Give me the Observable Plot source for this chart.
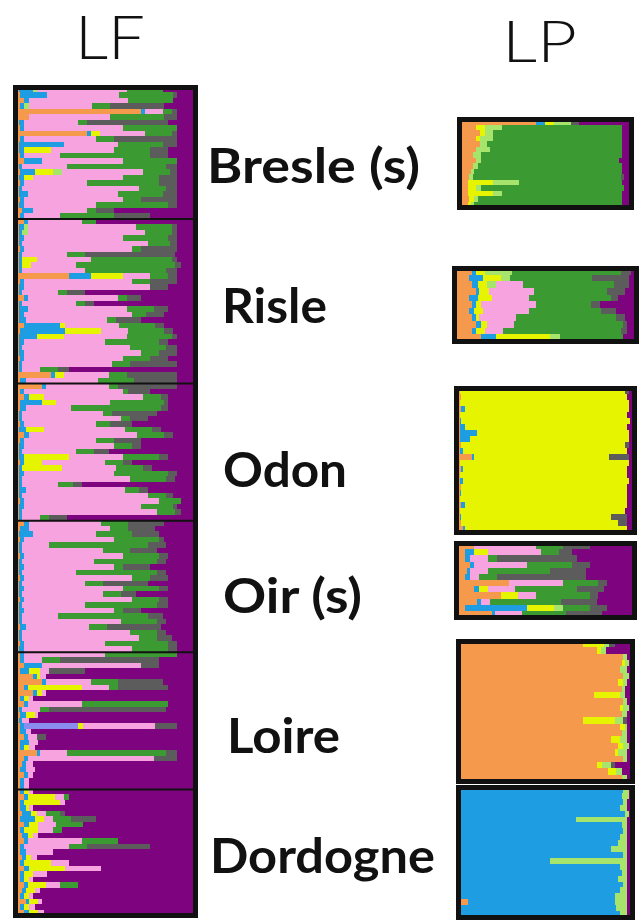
<!DOCTYPE html>
<html><head><meta charset="utf-8">
<script src="https://cdn.jsdelivr.net/npm/d3@7"></script>
<script src="https://cdn.jsdelivr.net/npm/@observablehq/plot@0.6"></script>
<style>
body{margin:0;background:#fff}
#root{position:relative;width:641px;height:924px;overflow:hidden}
#root > svg{position:absolute}
</style>
</head><body><div id="root"></div>
<script>
// cluster order (left to right within each individual bar)
const clusters = ["K1","K2","K3","K4","K5","K6","K7","K8","K9"];
const clusterColors = ["#f59a4c","#1f9de3","#8a8cf0","#e6f400","#a6e46c","#f6a3e0","#3c9a32","#5c5c5c","#7e037e"];
const populations = ["Bresle (s)","Risle","Odon","Oir (s)","Loire","Dordogne"];

// LF: membership (%) per individual, columns follow `clusters`
const lfBresle = [
[2,8,0,0,2,50,20,0,18],[3,15,0,0,0,40,30,2,10],[5,3,0,0,0,55,25,0,12],[3,2,0,0,3,35,10,30,17],
[70,2,0,0,0,10,5,3,10],[8,0,0,0,0,45,30,7,10],[2,3,0,0,0,30,5,45,15],[3,2,0,0,0,55,30,0,10],
[40,2,0,5,0,25,15,3,10],[3,2,0,0,0,40,10,35,10],[2,25,0,0,0,30,25,8,10],[2,3,0,15,0,35,20,10,15],
[3,2,0,0,0,20,50,10,15],[5,10,0,0,0,45,30,0,10],[2,2,0,0,0,25,55,6,10],[3,8,0,10,5,45,15,4,10],
[2,3,0,5,0,50,20,10,10],[3,2,0,0,0,35,40,10,10],[2,2,0,0,0,65,15,6,10],[2,5,0,0,0,50,25,8,10],
[3,2,0,0,0,55,10,20,10],[2,3,0,0,0,40,40,5,10],[4,6,0,0,0,30,5,10,45],[3,2,0,0,0,20,30,20,25]
];
const lfRisle = [
[5,2,0,0,0,30,8,0,55],[2,3,0,0,2,60,20,3,10],[2,2,0,0,3,65,15,3,10],[2,3,0,0,0,55,25,5,10],
[2,2,0,0,0,70,12,4,10],[3,2,0,0,0,60,5,20,10],[2,2,0,0,0,25,10,50,11],[2,2,0,8,0,30,45,3,10],
[2,2,0,5,0,25,55,3,8],[2,2,0,0,0,35,45,6,10],[30,12,0,18,0,15,10,5,10],[3,2,0,0,0,60,10,15,10],
[2,3,0,0,0,70,0,10,15],[2,2,0,0,0,20,5,10,61],[5,2,0,0,0,50,5,8,30],[2,2,0,0,0,30,5,5,56],
[2,5,0,0,0,55,15,8,15],[2,3,0,0,0,60,8,10,17],[2,4,0,0,0,45,5,14,30],[5,20,0,3,0,30,20,5,17],
[3,25,0,20,0,15,20,5,12],[2,10,0,15,0,35,25,3,10],[2,3,0,0,0,45,30,5,15],[2,2,0,0,0,60,20,6,10],
[2,3,0,0,0,65,10,10,10],[3,2,0,0,0,55,15,10,15],[2,2,0,0,0,50,10,26,10],[2,2,0,0,0,10,10,6,70],
[20,2,0,5,0,25,10,28,10],[3,3,0,0,0,40,20,24,10]
];
const lfOdon = [
[15,2,0,0,0,35,5,33,10],[3,2,0,0,0,55,3,12,25],[5,3,0,8,0,55,10,4,15],[3,12,0,8,0,30,30,2,15],
[3,3,0,0,0,25,50,4,15],[2,2,0,0,0,45,5,25,21],[2,2,0,0,0,55,5,10,26],[3,2,0,0,0,40,8,12,35],
[2,4,0,10,0,45,15,5,19],[5,3,0,0,0,60,15,5,12],[3,2,0,0,0,40,10,15,30],[2,3,0,0,0,50,10,5,30],
[2,2,0,0,0,30,10,8,48],[2,3,0,25,0,30,20,5,15],[3,2,0,10,0,35,10,5,35],[2,2,0,22,0,30,15,5,24],
[2,3,0,0,0,50,30,5,10],[2,2,0,0,0,60,20,5,11],[2,2,0,0,0,20,8,5,63],[2,4,0,0,0,55,8,5,26],
[2,2,0,0,0,70,10,4,12],[3,2,0,0,0,75,12,0,8],[2,3,0,0,0,65,18,2,10],[2,2,0,0,0,75,10,3,8],
[2,2,0,0,0,10,5,10,71]
];
const lfOir = [
[5,3,0,0,0,40,15,20,17],[3,5,0,0,0,45,10,15,22],[2,8,0,0,0,35,20,15,20],[3,2,0,0,0,50,25,3,17],
[2,2,0,0,0,15,55,10,16],[2,2,0,0,0,45,15,15,21],[3,2,0,0,0,55,20,5,15],[2,2,0,0,0,40,35,5,16],
[2,3,0,0,0,50,5,15,25],[2,2,0,0,0,30,45,5,16],[3,2,0,0,0,60,10,10,15],[2,2,0,0,0,35,10,25,26],
[2,3,0,0,0,55,20,5,15],[2,2,0,0,0,45,10,8,33],[3,2,0,0,0,60,15,5,15],[2,2,0,0,0,35,40,6,15],
[2,3,0,0,0,50,5,10,30],[2,2,0,0,0,20,50,8,18],[2,2,0,0,0,55,20,5,16],[3,3,0,0,0,35,10,30,19],
[2,2,0,0,0,60,15,5,16],[2,2,0,0,0,65,10,8,13],[3,2,0,0,0,45,35,5,10],[2,3,0,0,0,60,20,5,10]
];
const lfLoire = [
[3,2,0,0,0,45,40,0,10],[3,2,0,0,0,10,10,55,20],[5,10,0,0,0,55,0,10,20],[3,5,0,6,0,5,0,20,61],
[10,2,0,2,0,3,0,0,83],[15,2,0,0,0,25,15,25,18],[5,2,0,30,0,15,5,28,15],[10,2,0,3,0,2,0,0,83],
[3,2,0,3,0,2,0,0,90],[5,2,0,0,0,30,48,0,15],[2,2,0,0,0,10,5,65,16],[3,3,0,5,0,2,0,0,87],
[2,2,0,0,0,4,0,0,92],[3,2,30,3,0,40,0,12,10],[3,3,0,0,0,3,0,0,91],[5,2,0,0,0,5,0,5,83],
[3,5,0,0,0,5,0,0,87],[3,2,0,3,0,3,0,0,89],[12,2,0,0,0,15,55,6,10],[5,2,0,0,0,70,0,13,10],
[4,2,0,0,0,4,0,0,90],[3,3,0,0,0,5,0,0,89],[5,2,0,0,0,3,0,0,90],[3,2,0,0,0,3,0,0,92],
[3,2,0,0,0,3,0,0,92]
];
const lfDordogne = [
[3,2,0,3,0,2,0,0,90],[5,2,0,15,0,5,3,0,70],[3,2,0,20,0,3,0,0,72],[3,3,0,2,0,2,0,0,90],
[4,5,0,3,0,5,8,3,72],[3,8,0,5,0,5,10,14,55],[5,3,0,5,0,10,15,0,62],[3,2,0,8,0,8,5,0,74],
[4,3,0,3,0,3,0,0,87],[5,2,0,0,0,30,20,0,43],[3,2,0,0,0,25,10,35,25],[3,3,0,0,0,15,0,0,79],
[4,2,0,3,0,3,0,0,88],[3,2,0,15,0,10,0,0,70],[5,3,0,20,0,20,0,0,52],[3,2,0,5,0,8,0,0,82],
[3,2,0,3,0,2,0,0,90],[5,2,0,10,0,8,10,0,65],[4,2,0,5,0,3,0,0,86],[3,2,0,3,0,2,0,0,90],
[6,2,0,5,0,2,0,0,85],[3,2,0,3,0,3,0,0,89],[5,3,0,5,0,3,0,0,84]
];

// LP: membership (%) per individual
const lpBresle = [
[45,5,0,5,10,0,0,5,30],[10,0,0,5,10,0,70,0,5],[12,0,0,3,5,0,75,0,5],[10,0,0,2,8,0,75,0,5],
[12,0,0,0,4,0,79,0,5],[10,0,0,0,8,0,77,0,5],[8,0,0,0,5,0,82,0,5],[10,0,0,0,3,0,80,0,7],
[8,0,0,0,3,0,84,0,5],[7,0,0,0,2,0,86,0,5],[6,0,0,0,2,0,86,2,4],[5,0,0,15,15,0,60,0,5],
[5,0,0,5,3,0,83,0,4],[5,0,0,15,5,0,70,0,5],[6,0,0,3,2,0,84,0,5],[5,0,0,2,2,0,86,0,5]
];
const lpRisle = [
[10,2,0,5,15,0,60,5,3],[8,8,0,10,5,0,45,20,4],[10,3,0,5,5,15,50,8,4],[12,2,0,5,0,25,40,10,6],
[8,5,0,8,0,20,45,4,10],[10,2,0,3,0,30,30,5,20],[8,3,0,5,0,25,40,8,11],[10,2,0,2,0,20,55,5,6],
[12,3,0,3,0,15,60,2,5],[10,2,0,5,0,10,65,3,5],[15,8,0,30,5,0,35,0,7]
];
const lpOdon = [
[2,0,0,93,0,0,0,2,3],[3,0,0,93,0,0,0,0,4],[2,0,0,95,0,0,0,0,3],[3,2,0,92,0,0,0,0,3],
[2,0,0,94,0,0,0,0,4],[2,1,0,95,0,0,0,0,2],[2,3,0,91,0,0,0,0,4],[2,10,0,85,0,0,0,0,3],
[2,6,0,89,0,0,0,0,3],[3,0,0,92,0,0,0,2,3],[2,2,0,92,0,0,0,0,4],[9,1,0,76,0,0,0,11,3],
[2,0,0,95,0,0,0,0,3],[3,1,0,92,0,0,0,0,4],[2,0,0,94,0,0,0,0,4],[2,2,0,93,0,0,0,0,3],
[3,0,0,93,0,0,0,0,4],[2,1,0,93,0,0,0,0,4],[2,0,0,94,0,0,0,0,4],[3,2,0,91,0,0,0,0,4],
[2,0,0,93,0,0,0,0,5],[2,1,0,84,0,0,0,9,4],[3,0,0,88,0,0,0,5,4],[4,1,0,91,0,0,0,0,4]
];
const lpOir = [
[10,0,0,0,0,35,15,15,25],[5,5,0,8,0,30,10,7,35],[5,3,0,0,0,10,5,45,32],[8,2,0,0,0,30,25,10,25],
[6,2,0,0,0,10,35,20,27],[5,3,0,0,0,5,10,50,27],[30,0,0,0,0,30,20,5,15],[10,3,0,5,0,15,35,15,17],
[25,0,0,10,0,10,30,5,20],[12,2,0,0,0,5,40,20,21],[5,35,0,15,5,0,15,10,15],[20,2,0,0,0,15,25,20,18]
];
const lpLoire = [
[72,0,0,12,3,0,0,3,10],[80,0,0,2,3,0,0,0,15],[95,0,0,0,2,0,0,0,3],[94,0,0,2,2,0,0,0,2],
[93,0,0,0,4,0,0,0,3],[95,0,0,0,3,0,0,0,2],[92,0,0,3,2,0,0,0,3],[94,0,0,0,2,0,0,0,4],
[78,0,0,15,3,0,0,0,4],[95,0,0,0,2,0,0,0,3],[93,0,0,2,3,0,0,0,2],[94,0,0,0,3,0,0,0,3],
[72,0,0,18,5,0,0,2,3],[93,0,0,3,1,0,0,0,3],[94,0,0,0,3,0,0,0,3],[88,0,0,5,4,0,0,0,3],
[92,0,0,3,3,0,0,0,2],[90,0,0,2,5,0,0,0,3],[95,0,0,0,2,0,0,0,3],[80,0,0,3,5,0,0,2,10],
[86,0,0,5,3,0,0,0,6],[94,0,0,0,3,0,0,0,3]
];
const lpDordogne = [
[0,95,0,0,3,0,0,0,2],[0,94,0,0,4,0,0,0,2],[0,95,0,0,2,0,0,0,3],[0,93,0,0,4,0,0,0,3],
[0,96,0,0,2,0,0,0,2],[0,68,0,0,29,0,0,0,3],[0,94,0,0,3,0,0,0,3],[0,95,0,0,2,0,0,0,3],
[2,91,0,0,4,0,0,0,3],[0,92,0,0,5,0,0,0,3],[0,88,0,0,9,0,0,0,3],[0,95,0,0,2,0,0,0,3],
[0,53,0,0,44,0,0,0,3],[0,93,0,0,4,0,0,0,3],[0,94,0,0,3,0,0,0,3],[0,92,0,0,5,0,0,0,3],
[0,95,0,0,2,0,0,0,3],[0,93,0,0,4,0,0,0,3],[0,90,0,0,7,0,0,0,3],[6,84,0,0,7,0,0,0,3],
[0,91,0,0,6,0,0,0,3],[0,93,0,0,4,0,0,0,3]
];

const lfGroups = [lfBresle, lfRisle, lfOdon, lfOir, lfLoire, lfDordogne];
const lpGroups = [lpBresle, lpRisle, lpOdon, lpOir, lpLoire, lpDordogne];

// ---- layout (pixels) ----
const lfBox = {left: 12, top: 84, width: 186, height: 834};
const lpBoxes = [
  {left: 456, top: 116, width: 178, height: 94},
  {left: 451, top: 265, width: 188, height: 79},
  {left: 453, top: 385, width: 184, height: 150},
  {left: 453, top: 540, width: 184, height: 80},
  {left: 455, top: 638, width: 180, height: 146},
  {left: 455, top: 784, width: 180, height: 136}
];
const labelPos = [
  {x: 207, y: 183, w: 213}, {x: 222, y: 323, w: 105}, {x: 223, y: 487, w: 124},
  {x: 223, y: 613, w: 139}, {x: 227, y: 753, w: 113}, {x: 210, y: 873, w: 225}
];

function tidy(rows) {
  const out = [];
  rows.forEach((r, i) => r.forEach((q, k) => { if (q > 0) out.push({y1: i, y2: i + 1, k: clusters[k], q}); }));
  return out;
}

function structurePlot(rows, box, breaks = []) {
  const n = rows.length;
  const svg = Plot.plot({
    width: box.width, height: box.height, margin: 3,
    x: {domain: [0, 1], axis: null},
    y: {domain: [0, n], reverse: true, axis: null},
    color: {type: "ordinal", domain: clusters, range: clusterColors},
    marks: [
      Plot.rectX(tidy(rows), {y1: "y1", y2: "y2", x: "q", fill: "k", order: clusters, offset: "normalize", shapeRendering: "crispEdges"}),
      Plot.ruleY(breaks, {stroke: "#111", strokeWidth: 2}),
      Plot.frame({stroke: "#111", strokeWidth: 5})
    ]
  });
  svg.style.left = box.left + "px";
  svg.style.top = box.top + "px";
  svg.style.background = "transparent";
  return svg;
}

const root = document.getElementById("root");
const lfRows = lfGroups.flat();
const lfBreaks = d3.cumsum(lfGroups.map(g => g.length)).slice(0, -1);
root.appendChild(structurePlot(lfRows, lfBox, Array.from(lfBreaks)));
lpGroups.forEach((g, j) => root.appendChild(structurePlot(g, lpBoxes[j])));

// text overlay
const txt = d3.create("svg").attr("width", 641).attr("height", 924)
  .style("left", "0px").style("top", "0px").style("pointer-events", "none");
txt.append("text").attr("x", 75).attr("y", 59).text("LF")
  .attr("textLength", 70).attr("lengthAdjust", "spacingAndGlyphs")
  .attr("font-family", "Lato, 'Open Sans', sans-serif").attr("font-weight", 300).attr("font-size", 61).attr("fill", "#111");
txt.append("text").attr("x", 502).attr("y", 62).text("LP")
  .attr("textLength", 75).attr("lengthAdjust", "spacingAndGlyphs")
  .attr("font-family", "Lato, 'Open Sans', sans-serif").attr("font-weight", 300).attr("font-size", 58).attr("fill", "#111");
populations.forEach((p, j) => {
  txt.append("text").attr("x", labelPos[j].x).attr("y", labelPos[j].y).text(p)
    .attr("textLength", labelPos[j].w).attr("lengthAdjust", "spacingAndGlyphs")
    .attr("font-family", "Lato, 'Open Sans', sans-serif").attr("font-weight", 700).attr("font-size", 48).attr("fill", "#111");
});
root.appendChild(txt.node());
</script>
</body></html>
